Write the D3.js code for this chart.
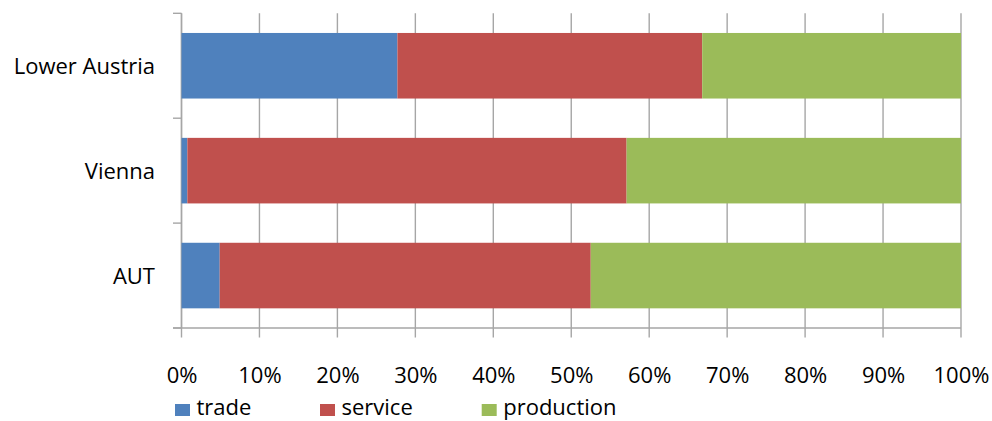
<!DOCTYPE html>
<html><head><meta charset="utf-8">
<script src="https://cdn.jsdelivr.net/npm/d3@7"></script>
<style>body{margin:0;background:#fff}svg{display:block}text{font-family:"Open Sans",sans-serif;fill:#000}</style>
</head><body>
<script>
const categories = ["Lower Austria", "Vienna", "AUT"];
const seriesNames = ["trade", "service", "production"];
const trade = [27.7, 0.75, 4.9];
const service = [39.1, 56.35, 47.6];
const production = [33.2, 42.9, 47.5];
const tickLabels = ["0%","10%","20%","30%","40%","50%","60%","70%","80%","90%","100%"];
const colors = ["#4F81BD", "#C0504D", "#9BBB59"];

const W = 992, H = 421;
const svg = d3.select("body").append("svg").attr("width", W).attr("height", H);

const x = d3.scaleLinear().domain([0, 100]).range([181.5, 961]);
const pi = 0.375;
const y = d3.scaleBand().domain(categories).range([13.3, 328]).paddingInner(pi).paddingOuter(pi / 2);
const gridColor = "#a6a6a6";

// gridlines
const ticks = d3.range(0, 101, 10);
svg.append("g").selectAll("line").data(ticks).join("line")
  .attr("x1", d => x(d)).attr("x2", d => x(d))
  .attr("y1", 13.3).attr("y2", 337.5)
  .attr("stroke", gridColor).attr("stroke-width", 1.4);

// left axis
const yTop = y.range()[0], yBot = y.range()[1];
svg.append("line").attr("x1", x(0)).attr("x2", x(0)).attr("y1", yTop).attr("y2", yBot)
  .attr("stroke", gridColor).attr("stroke-width", 1.4);
const bounds = categories.map(c => y(c) - y.step() * pi / 2).concat([yBot]);
svg.append("g").selectAll("line").data(bounds).join("line")
  .attr("x1", 173).attr("x2", x(0)).attr("y1", d => d).attr("y2", d => d)
  .attr("stroke", gridColor).attr("stroke-width", 1.4);
// bottom axis
svg.append("line").attr("x1", 173).attr("x2", x(100)).attr("y1", yBot).attr("y2", yBot)
  .attr("stroke", gridColor).attr("stroke-width", 1.4);

// stacked bars
const rows = categories.map((c, i) => ({cat: c, trade: trade[i], service: service[i], production: production[i]}));
const stack = d3.stack().keys(seriesNames)(rows);
svg.append("g").selectAll("g").data(stack).join("g")
  .attr("fill", (d, i) => colors[i])
  .selectAll("rect").data(d => d).join("rect")
  .attr("x", d => x(d[0])).attr("width", d => x(d[1]) - x(d[0]))
  .attr("y", d => y(d.data.cat)).attr("height", y.bandwidth());

// x tick labels
const xAxis = d3.axisBottom(x).tickValues(ticks).tickSize(0).tickPadding(0)
  .tickFormat((d, i) => tickLabels[i]);
const gx = svg.append("g").attr("transform", "translate(0,383)").call(xAxis);
gx.select(".domain").remove();
gx.selectAll("text").attr("dy", 0).attr("y", 0).style("font-size", "22px")
  .style("font-family", "'Open Sans', sans-serif").attr("fill", "#000");

// category labels
svg.append("g").selectAll("text").data(categories).join("text")
  .attr("x", 155).attr("y", d => y(d) + y.bandwidth() / 2 + 8)
  .attr("text-anchor", "end").style("font-size", "22px").text(d => d);

// legend
const legX = [175, 320, 481.7];
const leg = svg.append("g").selectAll("g").data(seriesNames).join("g")
  .attr("transform", (d, i) => `translate(${legX[i]},0)`);
leg.append("rect").attr("x", 0).attr("y", 404).attr("width", 15).attr("height", 12)
  .attr("fill", (d, i) => colors[i]);
leg.append("text").attr("x", 21.5).attr("y", 415).style("font-size", "22px").text(d => d);
</script>
</body></html>
